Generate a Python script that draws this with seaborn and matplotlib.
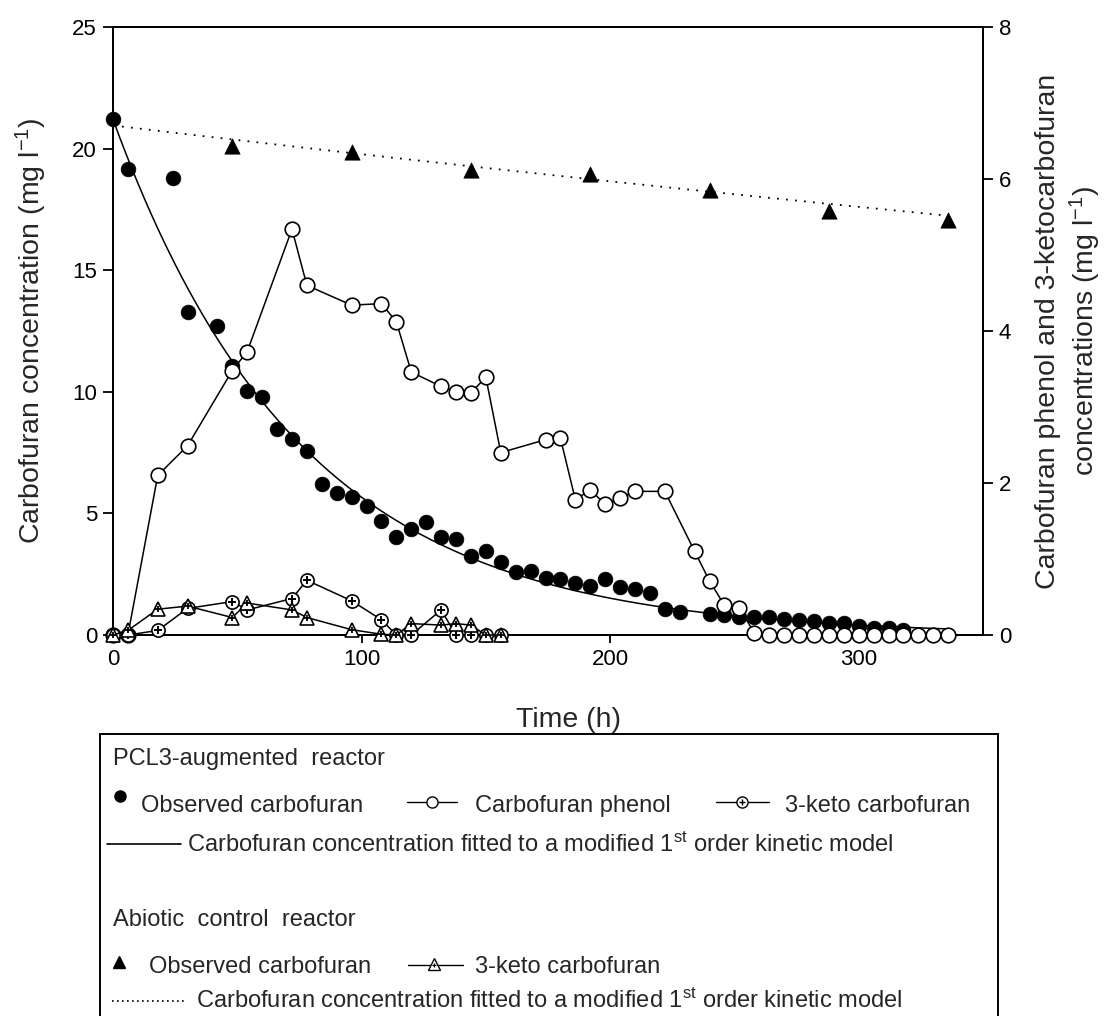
import numpy as np
import matplotlib
matplotlib.use("Agg")
import matplotlib.pyplot as plt
from matplotlib.lines import Line2D
from matplotlib.patches import Rectangle
import seaborn as sns

# ---------------- data ----------------
# PCL3-augmented reactor, observed carbofuran (mg l-1, left axis)
carbo_t = [0, 6, 24, 30, 42, 48, 54, 60, 66, 72, 78, 84, 90, 96, 102, 108, 114, 120,
           126, 132, 138, 144, 150, 156, 162, 168, 174, 180, 186, 192, 198, 204, 210,
           216, 222, 228, 240, 246, 252, 258, 264, 270, 276, 282, 288, 294, 300, 306,
           312, 318]
carbo_obs = [21.2, 19.15, 18.8, 13.3, 12.7, 11.05, 10.05, 9.8, 8.47, 8.04, 7.58, 6.2,
             5.82, 5.66, 5.3, 4.69, 4.04, 4.34, 4.66, 4.04, 3.96, 3.25, 3.47, 3.01, 2.58,
             2.64, 2.33, 2.29, 2.15, 2.01, 2.30, 1.96, 1.88, 1.71, 1.06, 0.96, 0.85, 0.83,
             0.75, 0.75, 0.72, 0.64, 0.62, 0.58, 0.50, 0.48, 0.38, 0.28, 0.30, 0.20]

# PCL3-augmented reactor, carbofuran phenol (mg l-1, right axis)
phenol_t = [0, 6, 18, 30, 48, 54, 72, 78, 96, 108, 114, 120, 132, 138, 144, 150, 156,
            174, 180, 186, 192, 198, 204, 210, 222, 234, 240, 246, 252, 258, 264, 270,
            276, 282, 288, 294, 300, 306, 312, 318, 324, 330, 336]
phenol = [0, 0, 2.10, 2.49, 3.48, 3.73, 5.34, 4.60, 4.34, 4.36, 4.12, 3.46, 3.27, 3.20,
          3.19, 3.39, 2.40, 2.57, 2.59, 1.78, 1.91, 1.72, 1.80, 1.89, 1.89, 1.10, 0.71,
          0.39, 0.35, 0.03, 0, 0, 0, 0, 0, 0, 0, 0, 0, 0, 0, 0, 0]

# 3-keto carbofuran (mg l-1, right axis)
keto_t = [0, 6, 18, 30, 48, 54, 72, 78, 96, 108, 114, 120, 132, 138, 144, 150, 156]
keto_pcl3 = [0, 0, 0.06, 0.35, 0.44, 0.33, 0.48, 0.72, 0.45, 0.20, 0, 0, 0.33, 0, 0, 0, 0]
keto_abiotic = [0, 0.06, 0.34, 0.38, 0.23, 0.42, 0.33, 0.23, 0.07, 0.01, 0, 0.15, 0.13,
                0.15, 0.13, 0, 0]

# Abiotic control reactor, observed carbofuran (mg l-1, left axis)
abiotic_t = [48, 96, 144, 192, 240, 288, 336]
abiotic_obs = [20.1, 19.85, 19.11, 18.95, 18.28, 17.42, 17.05]

# Modified first-order kinetic fits: C = C0 * exp(-k t)
fit_pcl3_c0, fit_pcl3_k = 21.2, 0.0132
fit_abiotic_c0, fit_abiotic_k = 20.95, 0.00058
fit_t_end = 336

# ---------------- style ----------------
sns.set_style("ticks")
plt.rcParams["font.family"] = ["Liberation Sans", "DejaVu Sans"]
plt.rcParams["mathtext.fontset"] = "custom"
plt.rcParams["mathtext.rm"] = "Liberation Sans"
plt.rcParams["mathtext.it"] = "Liberation Sans:italic"
plt.rcParams["axes.linewidth"] = 1.4

W, H = 1109, 1016
fig = plt.figure(figsize=(W / 100, H / 100), dpi=100)


def fx(x):
    return x / W


def fy(y):
    return 1 - y / H


ax = fig.add_axes([fx(113), fy(635), fx(983) - fx(113), fy(27) - fy(635)])
ax2 = ax.twinx()

LW = 1.1
MEW = 1.2

# fitted curves
tt = np.linspace(0, fit_t_end, 400)
sns.lineplot(x=tt, y=fit_pcl3_c0 * np.exp(-fit_pcl3_k * tt), ax=ax, color="black",
             lw=LW, estimator=None, sort=False, errorbar=None, zorder=2)
sns.lineplot(x=tt, y=fit_abiotic_c0 * np.exp(-fit_abiotic_k * tt), ax=ax, color="black",
             lw=1.3, linestyle=(0, (1, 4)), estimator=None, sort=False, errorbar=None,
             zorder=2)

# observed carbofuran
sns.scatterplot(x=abiotic_t, y=abiotic_obs, ax=ax, marker="^", s=11 ** 2, color="black",
                edgecolor="black", linewidth=0.5, clip_on=False, zorder=3)
sns.scatterplot(x=carbo_t, y=carbo_obs, ax=ax, marker="o", s=10.6 ** 2, color="black",
                edgecolor="black", linewidth=0.5, clip_on=False, zorder=4)

# carbofuran phenol
sns.lineplot(x=phenol_t, y=phenol, ax=ax2, color="black", lw=LW, marker="o",
             markersize=10.5, markerfacecolor="white", markeredgecolor="black",
             markeredgewidth=MEW, estimator=None, sort=False, errorbar=None,
             clip_on=False, zorder=3)

# 3-keto carbofuran, PCL3 reactor (circle with cross)
sns.lineplot(x=keto_t, y=keto_pcl3, ax=ax2, color="black", lw=LW, marker="o",
             markersize=9.5, markerfacecolor="white", markeredgecolor="black",
             markeredgewidth=MEW, estimator=None, sort=False, errorbar=None,
             clip_on=False, zorder=4)
sns.lineplot(x=keto_t, y=keto_pcl3, ax=ax2, linestyle="none", marker="+",
             markersize=5.5, markeredgecolor="black", markeredgewidth=1.4,
             estimator=None, sort=False, errorbar=None, clip_on=False, zorder=4)

# 3-keto carbofuran, abiotic reactor (triangle with cross)
sns.lineplot(x=keto_t, y=keto_abiotic, ax=ax2, color="black", lw=LW, marker="^",
             markersize=9.5, markerfacecolor="white", markeredgecolor="black",
             markeredgewidth=MEW, estimator=None, sort=False, errorbar=None,
             clip_on=False, zorder=5)
sns.lineplot(x=keto_t, y=keto_abiotic, ax=ax2, linestyle="none", marker="+",
             markersize=5, markeredgecolor="black", markeredgewidth=1.3,
             estimator=None, sort=False, errorbar=None, clip_on=False, zorder=5)

# ---------------- axes ----------------
ax.set_xlim(0, 350)
ax.set_ylim(0, 25)
ax2.set_ylim(0, 8)
ax.set_xticks([0, 100, 200, 300])
ax.set_yticks([0, 5, 10, 15, 20, 25])
ax2.set_yticks([0, 2, 4, 6, 8])
ax.set_xlabel("")
ax.set_ylabel("")
ax2.set_ylabel("")
ax.tick_params(axis="y", direction="out", length=7.5, width=1.3, labelsize=16, pad=4,
               colors="black")
ax.tick_params(axis="x", direction="out", length=6, width=1.3, labelsize=16, pad=4,
               colors="black")
ax2.tick_params(axis="y", direction="out", length=7.5, width=1.3, labelsize=16, pad=4,
                colors="black")
for a in (ax, ax2):
    for s in a.spines.values():
        s.set_visible(True)
        s.set_color("black")
        s.set_linewidth(1.4)

# axis titles
fig.text(fx(31), fy(331), "Carbofuran concentration (mg l$^{-1}$)", rotation=90,
         ha="center", va="center", fontsize=20.5)
fig.text(fx(1069), fy(331),
         "Carbofuran phenol and 3-ketocarbofuran\nconcentrations (mg l$^{-1}$)",
         rotation=90, ha="center", va="center", fontsize=20.5, multialignment="center",
         linespacing=1.25)
fig.text(fx(568), fy(720), "Time (h)", ha="center", va="center", fontsize=20.5)

# ---------------- key box ----------------
fig.add_artist(Rectangle((fx(100), fy(1040)), fx(998) - fx(100), fy(734) - fy(1040),
                         fill=False, lw=1.4, edgecolor="black",
                         transform=fig.transFigure, clip_on=False))

LFS = 17


def ktext(x, y, s):
    fig.text(fx(x), fy(y), s, ha="left", va="baseline", fontsize=LFS)


def kline(x0, x1, y, **kw):
    fig.add_artist(Line2D([fx(x0), fx(x1)], [fy(y), fy(y)], color="black",
                          transform=fig.transFigure, **kw))


def kmark(x, y, **kw):
    fig.add_artist(Line2D([fx(x)], [fy(y)], linestyle="none", color="black",
                          transform=fig.transFigure, **kw))


ktext(113, 765, "PCL3-augmented  reactor")
kmark(120, 796, marker="o", markersize=8, markerfacecolor="black",
      markeredgecolor="black")
ktext(141, 812, "Observed carbofuran")
kline(407, 457, 802, lw=1.0)
kmark(432, 802, marker="o", markersize=8, markerfacecolor="white",
      markeredgecolor="black", markeredgewidth=1.0)
ktext(475, 812, "Carbofuran phenol")
kline(716, 769, 802, lw=1.0)
kmark(742, 802, marker="o", markersize=8, markerfacecolor="white",
      markeredgecolor="black", markeredgewidth=1.0)
kmark(742, 802, marker="+", markersize=4, markeredgecolor="black", markeredgewidth=1.0)
ktext(785, 812, "3-keto carbofuran")
kline(107, 181, 844, lw=1.2)
ktext(187, 852, "Carbofuran concentration fitted to a modified 1$^{\\mathrm{st}}$ order kinetic model")

ktext(113, 926, "Abiotic  control  reactor")
kmark(119, 962, marker="^", markersize=9, markerfacecolor="black",
      markeredgecolor="black")
ktext(149, 973, "Observed carbofuran")
kline(408, 463, 965, lw=1.0)
kmark(434, 964, marker="^", markersize=8, markerfacecolor="white",
      markeredgecolor="black", markeredgewidth=1.0)
kmark(434, 965, marker="+", markersize=3.5, markeredgecolor="black",
      markeredgewidth=0.9)
ktext(475, 973, "3-keto carbofuran")
kline(112, 184, 1001, lw=1.2, linestyle=(0, (1, 2)))
ktext(196, 1008, "Carbofuran concentration fitted to a modified 1$^{\\mathrm{st}}$ order kinetic model")

fig.savefig("out.png", dpi=100)
